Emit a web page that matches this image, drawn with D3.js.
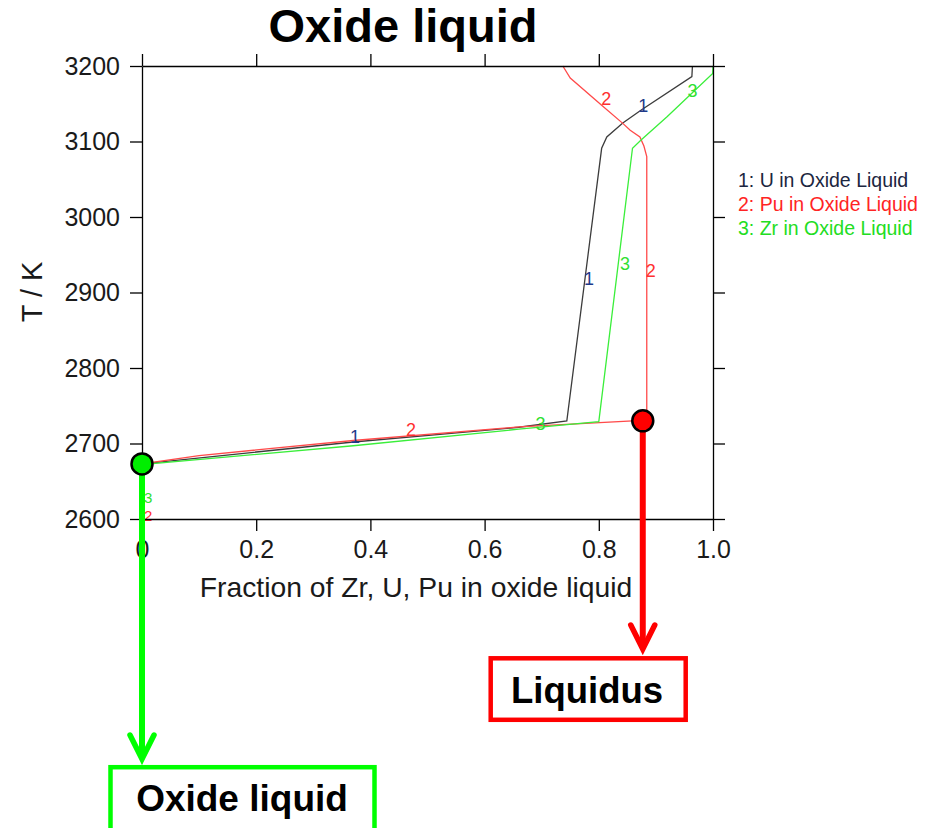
<!DOCTYPE html>
<html>
<head>
<meta charset="utf-8">
<script src="https://cdn.jsdelivr.net/npm/d3@7"></script>
<style>
  body { margin: 0; background: #fff; }
  text { font-family: "Liberation Sans", Arial, sans-serif; }
</style>
</head>
<body>
<div id="chart"></div>
<script>
// curve points: [fraction, T in K]
const uPoints = [[0, 2673], [0.37, 2702], [0.66, 2721.5], [0.744, 2730], [0.805, 3091], [0.814, 3106],
  [0.842, 3124.5], [0.875, 3142], [0.963, 3186], [0.964, 3200]];
const puPoints = [[0, 2600], [0, 2673], [0.1, 2684], [0.37, 2704], [0.66, 2722], [0.884, 2731],
  [0.884, 2900], [0.884, 3080], [0.879, 3094], [0.872, 3106], [0.855, 3115], [0.842, 3124],
  [0.805, 3148], [0.75, 3184], [0.737, 3200]];
const zrPoints = [[0, 2600], [0, 2672], [0.37, 2697], [0.66, 2719], [0.80, 2729], [0.859, 3091],
  [0.874, 3102], [0.92, 3133], [0.9995, 3190], [1.0, 3200]];

// curve number labels: [text, fraction, T, series, size]
const curveLabels = [
  ["1", 0.373, 2709, 0, 18], ["2", 0.471, 2719, 1, 18], ["3", 0.698, 2727, 2, 18],
  ["1", 0.783, 2919, 0, 18], ["3", 0.846, 2939, 2, 18], ["2", 0.891, 2929, 1, 18],
  ["2", 0.813, 3157, 1, 18], ["1", 0.878, 3148, 0, 18], ["3", 0.964, 3168, 2, 18],
  ["3", 0.011, 2628, 2, 15], ["2", 0.011, 2605, 1, 15]
];

const legendLabels = ["1: U in Oxide Liquid", "2: Pu in Oxide Liquid", "3: Zr in Oxide Liquid"];
const xTicks = [0, 0.2, 0.4, 0.6, 0.8, 1.0];
const yTicks = [2600, 2700, 2800, 2900, 3000, 3100, 3200];

// marked points
const oxidePoint = [0, 2673];
const liquidusPoint = [0.877, 2730];

const lineColors = ["#3c3c3c", "#ff4a4a", "#3aee3a"];
const labelColors = ["#1f3a8a", "#ff3030", "#30e030"];
const legendColors = ["#1c2640", "#ff2424", "#22dd22"];

const W = 937, H = 828;
const svg = d3.select("#chart").append("svg")
  .attr("width", W).attr("height", H);

const x = d3.scaleLinear().domain([0, 1]).range([142, 713]);
const y = d3.scaleLinear().domain([2600, 3200]).range([519, 66]);

// title
svg.append("text")
  .attr("x", 403).attr("y", 42)
  .attr("text-anchor", "middle")
  .attr("font-size", "47px")
  .attr("font-weight", "bold")
  .text("Oxide liquid");

// curves
const line = d3.line().x(d => x(d[0])).y(d => y(d[1]));
[uPoints, puPoints, zrPoints].forEach((pts, i) => {
  svg.append("path")
    .attr("d", line(pts))
    .attr("fill", "none")
    .attr("stroke", lineColors[i])
    .attr("stroke-width", 1.3);
});

svg.selectAll(".clabel")
  .data(curveLabels)
  .enter().append("text")
  .attr("class", "clabel")
  .attr("x", d => x(d[1]))
  .attr("y", d => y(d[2]))
  .attr("dy", "0.36em")
  .attr("text-anchor", "middle")
  .attr("font-size", d => d[4] + "px")
  .attr("fill", d => labelColors[d[3]])
  .text(d => d[0]);

// axes
function styleAxis(g) {
  g.select(".domain").attr("stroke", "#000").attr("stroke-width", 1.3);
  g.selectAll(".tick line").attr("stroke", "#000").attr("stroke-width", 1.3);
  g.selectAll(".tick text").attr("fill", "#1a1a1a").attr("font-size", "25px");
}

svg.append("g")
  .attr("transform", "translate(0," + y(2600) + ")")
  .call(d3.axisBottom(x).tickValues(xTicks).tickSize(12).tickSizeOuter(0).tickPadding(9)
    .tickFormat(d => d === 0 ? "0" : d3.format(".1f")(d)))
  .call(styleAxis);

svg.append("g")
  .attr("transform", "translate(0," + y(3200) + ")")
  .call(d3.axisTop(x).tickValues(xTicks).tickSize(12).tickSizeOuter(0).tickFormat(""))
  .call(styleAxis);

svg.append("g")
  .attr("transform", "translate(" + x(0) + ",0)")
  .call(d3.axisLeft(y).tickValues(yTicks).tickSize(12).tickSizeOuter(0).tickPadding(10)
    .tickFormat(d3.format("d")))
  .call(styleAxis);

svg.append("g")
  .attr("transform", "translate(" + x(1) + ",0)")
  .call(d3.axisRight(y).tickValues(yTicks).tickSize(12).tickSizeOuter(0).tickFormat(""))
  .call(styleAxis);

// axis titles
svg.append("text")
  .attr("x", 416).attr("y", 597)
  .attr("text-anchor", "middle")
  .attr("font-size", "28.3px")
  .attr("fill", "#1a1a1a")
  .text("Fraction of Zr, U, Pu in oxide liquid");

svg.append("text")
  .attr("transform", "translate(42,292) rotate(-90)")
  .attr("text-anchor", "middle")
  .attr("font-size", "29px")
  .attr("fill", "#1a1a1a")
  .text("T / K");

// legend
svg.selectAll(".legend")
  .data(legendLabels)
  .enter().append("text")
  .attr("class", "legend")
  .attr("x", 738)
  .attr("y", (d, i) => 187 + i * 24)
  .attr("font-size", "19.5px")
  .attr("fill", (d, i) => legendColors[i])
  .text(d => d);

// annotations: arrows and boxes
function arrow(cx, y0, tip, color) {
  svg.append("line")
    .attr("x1", cx).attr("y1", y0).attr("x2", cx).attr("y2", tip - 2)
    .attr("stroke", color).attr("stroke-width", 6);
  svg.append("path")
    .attr("d", "M" + (cx - 12) + "," + (tip - 24) + "L" + cx + "," + tip + "L" + (cx + 12) + "," + (tip - 24))
    .attr("fill", "none").attr("stroke", color).attr("stroke-width", 5.5)
    .attr("stroke-linecap", "round").attr("stroke-linejoin", "miter");
}

arrow(x(oxidePoint[0]), y(oxidePoint[1]), 759, "#00ff00");
arrow(x(liquidusPoint[0]), y(liquidusPoint[1]), 649, "#ff0000");

svg.append("circle")
  .attr("cx", x(oxidePoint[0])).attr("cy", y(oxidePoint[1])).attr("r", 10.5)
  .attr("fill", "#00ee00").attr("stroke", "#000").attr("stroke-width", 2.5);
svg.append("circle")
  .attr("cx", x(liquidusPoint[0])).attr("cy", y(liquidusPoint[1])).attr("r", 10.5)
  .attr("fill", "#ff0000").attr("stroke", "#000").attr("stroke-width", 2.5);

svg.append("rect")
  .attr("x", 490.7).attr("y", 658.3).attr("width", 195).attr("height", 61.5)
  .attr("fill", "#fff").attr("stroke", "#ff0000").attr("stroke-width", 4.5);
svg.append("text")
  .attr("x", 587).attr("y", 703)
  .attr("text-anchor", "middle")
  .attr("font-size", "36.5px").attr("font-weight", "bold")
  .text("Liquidus");

svg.append("rect")
  .attr("x", 110.5).attr("y", 767.2).attr("width", 264).attr("height", 90)
  .attr("fill", "#fff").attr("stroke", "#00ff00").attr("stroke-width", 4.5);
svg.append("text")
  .attr("x", 242).attr("y", 811)
  .attr("text-anchor", "middle")
  .attr("font-size", "37px").attr("font-weight", "bold")
  .text("Oxide liquid");
</script>
</body>
</html>
